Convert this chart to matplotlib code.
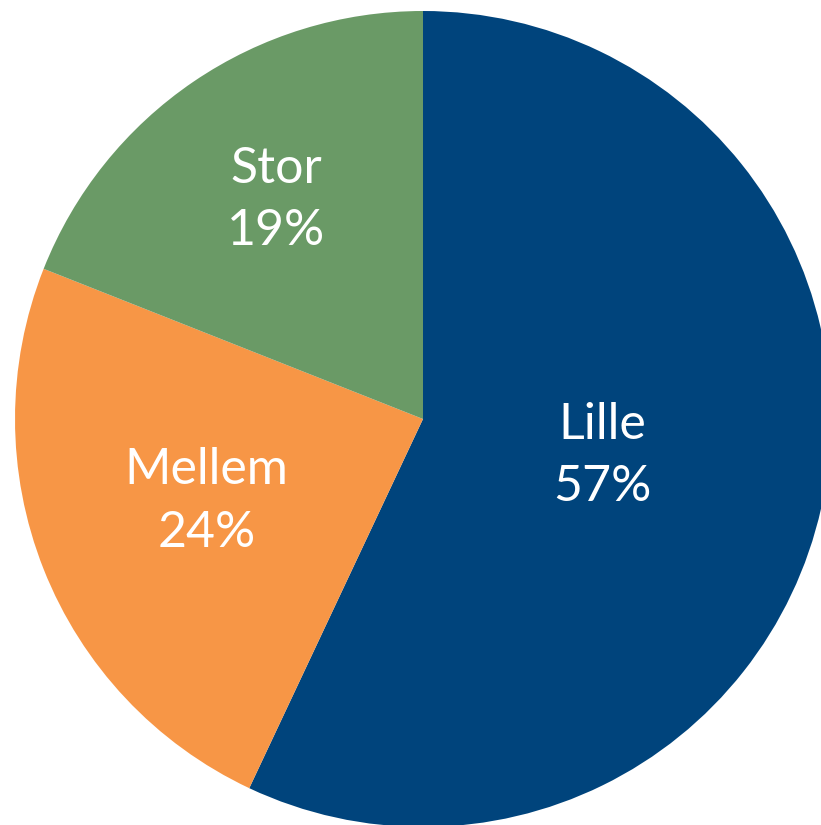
import numpy as np
import matplotlib.pyplot as plt

labels = ["Lille", "Mellem", "Stor"]
shares = [57, 24, 19]
colors = ["#00447C", "#F79646", "#6A9A66"]
label_r = [0.45, 0.57, 0.64]  # how far out each label sits, as fraction of radius

W, H = 821, 825
cx, cy, R = 423, 419, 408

fig = plt.figure(figsize=(W / 100, H / 100), dpi=100)
ax = fig.add_axes([0, 0, 1, 1])
wedges, _ = ax.pie(shares, colors=colors, startangle=90, counterclock=False,
                   radius=R, center=(0, 0), frame=True,
                   wedgeprops=dict(linewidth=0))
ax.set_xlim(-cx, W - cx)
ax.set_ylim(-(H - cy), cy)
ax.set_aspect("equal")
ax.axis("off")

for w, lab, s, f in zip(wedges, labels, shares, label_r):
    mid = np.deg2rad((w.theta1 + w.theta2) / 2)
    ax.text(f * R * np.cos(mid), f * R * np.sin(mid) + 3, f"{lab}\n{s}%",
            ha="center", va="center", color="white", fontsize=36,
            family="Lato", linespacing=1.45)

fig.savefig("out.png", dpi=100)
